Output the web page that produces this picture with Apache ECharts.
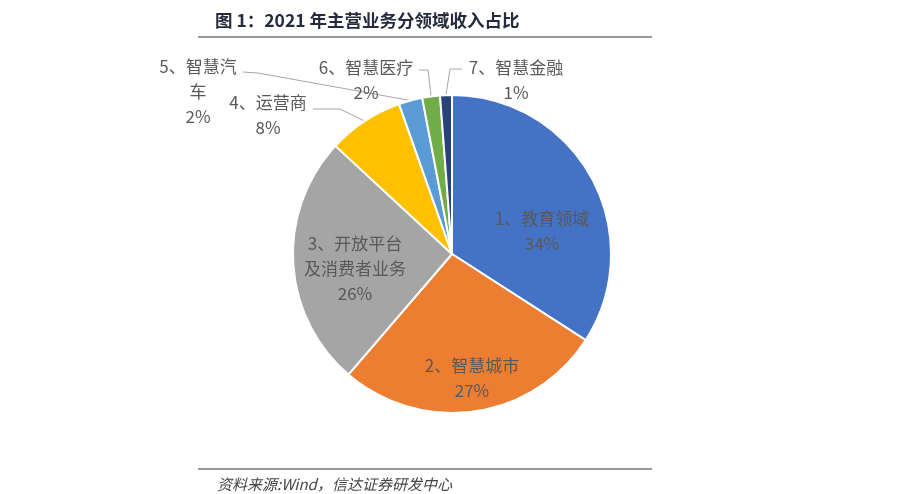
<!DOCTYPE html>
<html>
<head>
<meta charset="utf-8">
<script src="https://cdn.jsdelivr.net/npm/echarts@6/dist/echarts.min.js"></script>
<style>
    html, body { margin: 0; padding: 0; background: #fff; }
    #chart { width: 906px; height: 494px; }
</style>
</head>
<body>
<div id="chart"></div>
<script>
// 各领域名称与收入占比(%)
const names = ['1、教育领域', '2、智慧城市', '3、开放平台\n及消费者业务', '4、运营商', '5、智慧汽\n车', '6、智慧医疗', '7、智慧金融'];
const shares = [34.1, 27.2, 25.6, 7.7, 2.4, 1.8, 1.2];
const COLORS = ['#4472C4', '#ED7D31', '#A5A5A5', '#FFC000', '#5B9BD5', '#70AD47', '#264478'];

// 标签位置 (Excel 风格手动摆放)
const labelPos = [[542, 231], [472, 378], [355, 269], [268, 115], [198, 92], [366, 80], [516, 80]];
const lineBend = [null, null, null, [[340, 109], [313, 109]], [[258, 73], [243, 72]], [[428, 70], [419, 70]], [[450, 69], [462, 69]]];

const FONT = '"Noto Sans CJK SC", "Noto Sans", sans-serif';

const data = names.map(function (n, i) {
    const outside = i >= 3;
    return {
        name: n,
        value: shares[i],
        label: { position: outside ? 'outside' : 'inside' },
        labelLine: { show: outside }
    };
});

const option = {
    color: COLORS,
    animation: false,
    title: [{
        text: '图 1：2021 年主营业务分领域收入占比',
        left: 210,
        top: 7,
        textStyle: { fontFamily: FONT, fontSize: 17.5, fontWeight: 'bold', color: '#252b3d' }
    }, {
        text: '资料来源:Wind，信达证券研发中心',
        left: 212,
        top: 472,
        textStyle: { fontFamily: FONT, fontSize: 15, fontWeight: 'normal', fontStyle: 'italic', color: '#444' }
    }],
    graphic: [{
        type: 'line',
        shape: { x1: 198, y1: 37, x2: 652, y2: 37 },
        style: { stroke: '#777', lineWidth: 1.5 }
    }, {
        type: 'line',
        shape: { x1: 198, y1: 469, x2: 652, y2: 469 },
        style: { stroke: '#777', lineWidth: 1.5 }
    }],
    series: [{
        type: 'pie',
        center: [452, 254],
        radius: 159,
        startAngle: 90,
        clockwise: true,
        percentPrecision: 0,
        avoidLabelOverlap: false,
        itemStyle: { borderColor: '#fff', borderWidth: 2 },
        label: {
            formatter: '{b}\n{d}%',
            fontFamily: FONT,
            fontSize: 17,
            lineHeight: 25,
            color: '#595959',
            align: 'center'
        },
        labelLine: {
            lineStyle: { color: '#a6a6a6', width: 1 }
        },
        labelLayout: function (params) {
            const i = params.dataIndex;
            const res = {
                x: labelPos[i][0],
                y: labelPos[i][1],
                align: 'center',
                verticalAlign: 'middle'
            };
            if (lineBend[i] && params.labelLinePoints) {
                const p0 = params.labelLinePoints[0];
                res.labelLinePoints = [p0, lineBend[i][0], lineBend[i][1]];
            }
            return res;
        },
        data: data
    }]
};

const chart = echarts.init(document.getElementById('chart'));
chart.setOption(option);
</script>
</body>
</html>
